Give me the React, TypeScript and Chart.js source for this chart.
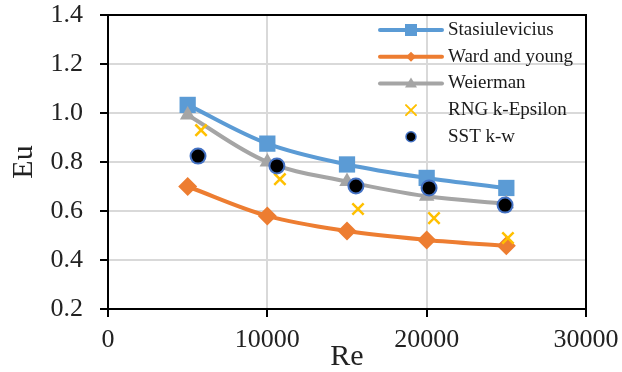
import React, { useEffect, useRef } from "react";
import { Chart, registerables } from "chart.js";

Chart.register(...registerables);

const reValues = [5000, 10000, 15000, 20000, 25000];
const stasiulevicius = [1.033, 0.875, 0.79, 0.735, 0.694];
const wardYoung = [0.70, 0.58, 0.518, 0.482, 0.458];
const weierman = [0.992, 0.80, 0.72, 0.66, 0.63];
const rngRe = [5840, 10790, 15690, 20460, 25100];
const rngEu = [0.93, 0.73, 0.608, 0.571, 0.49];
const sstRe = [5650, 10600, 15560, 20150, 24920];
const sstEu = [0.824, 0.784, 0.702, 0.694, 0.624];
const xTicks = [0, 10000, 20000, 30000];
const yTicks = [0.2, 0.4, 0.6, 0.8, 1.0, 1.2, 1.4];
const seriesNames = ["Stasiulevicius", "Ward and young", "Weierman", "RNG k-Epsilon", "SST k-w"];

const FONT = "'Liberation Serif', 'Times New Roman', serif";
const BLUE = "#5B9BD5";
const ORANGE = "#ED7D31";
const GRAY = "#A5A5A5";
const YELLOW = "#FFC000";
const DARKBLUE = "#4472C4";

const pts = (xs: number[], ys: number[]) => xs.map((x, i) => ({ x, y: ys[i] }));

function drawMarker(ctx: CanvasRenderingContext2D, kind: string, x: number, y: number) {
  ctx.save();
  if (kind === "square") {
    ctx.fillStyle = BLUE;
    ctx.fillRect(x - 6, y - 6, 12, 12);
  } else if (kind === "diamond") {
    ctx.fillStyle = ORANGE;
    ctx.beginPath();
    ctx.moveTo(x, y - 5);
    ctx.lineTo(x + 5, y);
    ctx.lineTo(x, y + 5);
    ctx.lineTo(x - 5, y);
    ctx.closePath();
    ctx.fill();
  } else if (kind === "triangle") {
    ctx.fillStyle = GRAY;
    ctx.beginPath();
    ctx.moveTo(x, y - 6);
    ctx.lineTo(x + 6, y + 4);
    ctx.lineTo(x - 6, y + 4);
    ctx.closePath();
    ctx.fill();
  } else if (kind === "cross") {
    ctx.strokeStyle = YELLOW;
    ctx.lineWidth = 2;
    ctx.beginPath();
    ctx.moveTo(x - 5, y - 5);
    ctx.lineTo(x + 5, y + 5);
    ctx.moveTo(x + 5, y - 5);
    ctx.lineTo(x - 5, y + 5);
    ctx.stroke();
  } else if (kind === "circle") {
    ctx.fillStyle = "#000";
    ctx.strokeStyle = DARKBLUE;
    ctx.lineWidth = 1.5;
    ctx.beginPath();
    ctx.arc(x, y, 5, 0, Math.PI * 2);
    ctx.fill();
    ctx.stroke();
  }
  ctx.restore();
}

const frameAndLegend = {
  id: "frameAndLegend",
  afterDraw(chart: any) {
    const { ctx, chartArea } = chart;
    ctx.save();
    ctx.strokeStyle = "#000";
    ctx.lineWidth = 2;
    ctx.strokeRect(chartArea.left, chartArea.top, chartArea.right - chartArea.left, chartArea.bottom - chartArea.top);
    const kinds = ["square", "diamond", "triangle", "cross", "circle"];
    const colors = [BLUE, ORANGE, GRAY, null, null];
    const x0 = 380, x1 = 442, xm = 411, xt = 448;
    seriesNames.forEach((name, i) => {
      const y = 30 + i * 26.7;
      const c = colors[i];
      if (c) {
        ctx.strokeStyle = c;
        ctx.lineWidth = 4;
        ctx.lineCap = "round";
        ctx.beginPath();
        ctx.moveTo(x0, y);
        ctx.lineTo(x1, y);
        ctx.stroke();
      }
      drawMarker(ctx, kinds[i], xm, y);
      ctx.fillStyle = "#1a1a1a";
      ctx.font = `19px ${FONT}`;
      ctx.textAlign = "left";
      ctx.textBaseline = "middle";
      ctx.fillText(name, xt, y);
    });
    ctx.restore();
  },
};

export default function App() {
  const ref = useRef<HTMLCanvasElement | null>(null);
  useEffect(() => {
    if (!ref.current) return;
    const chart = new Chart(ref.current, {
      type: "line",
      data: {
        datasets: [
          {
            label: seriesNames[0],
            data: pts(reValues, stasiulevicius),
            borderColor: BLUE,
            backgroundColor: BLUE,
            borderWidth: 4,
            pointStyle: "rect",
            pointRadius: 11.5,
            pointBorderWidth: 0,
            tension: 0.35,
            order: 5,
          },
          {
            label: seriesNames[1],
            data: pts(reValues, wardYoung),
            borderColor: ORANGE,
            backgroundColor: ORANGE,
            borderWidth: 4,
            pointStyle: "rectRot",
            pointRadius: 9.5,
            pointBorderWidth: 0,
            tension: 0.35,
            order: 4,
          },
          {
            label: seriesNames[2],
            data: pts(reValues, weierman),
            borderColor: GRAY,
            backgroundColor: GRAY,
            borderWidth: 4,
            pointStyle: "triangle",
            pointRadius: 9,
            pointBorderWidth: 0,
            tension: 0.35,
            order: 3,
          },
          {
            label: seriesNames[3],
            data: pts(rngRe, rngEu),
            showLine: false,
            borderColor: YELLOW,
            backgroundColor: YELLOW,
            pointStyle: "crossRot",
            pointRadius: 8,
            pointBorderWidth: 2.5,
            order: 2,
          },
          {
            label: seriesNames[4],
            data: pts(sstRe, sstEu),
            showLine: false,
            borderColor: DARKBLUE,
            backgroundColor: "#000",
            pointStyle: "circle",
            pointRadius: 7.5,
            pointBorderWidth: 2,
            order: 1,
          },
        ],
      },
      options: {
        responsive: false,
        animation: false,
        layout: { padding: { top: 15, right: 36, left: 0, bottom: 0 } },
        plugins: { legend: { display: false }, tooltip: { enabled: false } },
        scales: {
          x: {
            type: "linear",
            min: 0,
            max: 30000,
            afterBuildTicks: (s: any) => {
              s.ticks = xTicks.map((v) => ({ value: v }));
            },
            afterFit: (s: any) => {
              s.height = 63;
              s.paddingLeft = 0;
              s.paddingRight = 0;
            },
            ticks: {
              font: { family: FONT, size: 26 },
              color: "#222",
              padding: 8,
              maxRotation: 0,
              callback: (v: any) => String(v),
            },
            grid: { color: "#D9D9D9", lineWidth: 2, tickColor: "#000", tickLength: 8, tickWidth: 2 },
            border: { color: "#000", width: 2 },
            title: {
              display: true,
              text: "Re",
              font: { family: FONT, size: 30, lineHeight: 1 },
              color: "#222",
              padding: { top: 1, bottom: 0 },
            },
          },
          y: {
            type: "linear",
            min: 0.2,
            max: 1.4,
            afterBuildTicks: (s: any) => {
              s.ticks = yTicks.map((v) => ({ value: v }));
            },
            afterFit: (s: any) => {
              s.width = 108;
              s.paddingTop = 0;
              s.paddingBottom = 0;
            },
            ticks: {
              font: { family: FONT, size: 26 },
              color: "#222",
              padding: 17,
              callback: (v: any) => Number(v).toFixed(1),
            },
            grid: { color: "#D9D9D9", lineWidth: 2, tickColor: "#000", tickLength: 8, tickWidth: 2 },
            border: { color: "#000", width: 2 },
            title: {
              display: true,
              text: "Eu",
              font: { family: FONT, size: 30, lineHeight: 1 },
              color: "#222",
              padding: { top: 9, bottom: 0 },
            },
          },
        },
      },
      plugins: [frameAndLegend],
    } as any);
    return () => chart.destroy();
  }, []);
  return (
    <div style={{ position: "fixed", left: 0, top: 0, width: 622, height: 372, background: "#fff" }}>
      <canvas ref={ref} width={622} height={372} style={{ width: 622, height: 372, display: "block" }} />
    </div>
  );
}
